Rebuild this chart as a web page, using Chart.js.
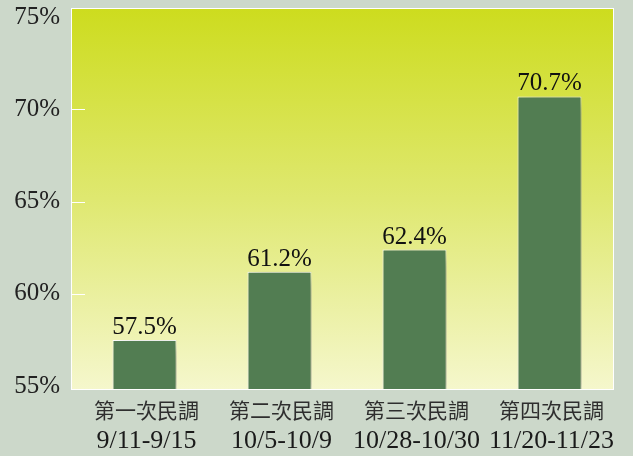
<!DOCTYPE html>
<html>
<head>
<meta charset="utf-8">
<script src="https://cdn.jsdelivr.net/npm/chart.js@4"></script>
<style>
  html, body { margin: 0; padding: 0; background: #ccd8ca; }
  #wrap { width: 633px; height: 456px; }
</style>
</head>
<body>
<div id="wrap"><canvas id="grafico"></canvas></div>
<script>
const rodadas = ['第一次民調', '第二次民調', '第三次民調', '第四次民調']
const periodos = ['9/11-9/15', '10/5-10/9', '10/28-10/30', '11/20-11/23']
const valores = [57.5, 61.2, 62.4, 70.7]
const ticksY = [55, 60, 65, 70, 75]

const fonte = '"Liberation Serif", "Noto Sans CJK TC", serif'
const eixoMin = 54.84
const eixoMax = 75.49

// fundo do gráfico em degradê + moldura branca (um pouco mais largo que a área das barras)
const fundoPlot = {
  id: 'fundoPlot',
  beforeDraw(chart) {
    const { ctx, chartArea: a } = chart
    const esq = a.left - 6
    const dir = a.right - 3
    const g = ctx.createLinearGradient(0, a.top, 0, a.bottom)
    g.addColorStop(0, '#cddc1e')
    g.addColorStop(0.5, '#dfe870')
    g.addColorStop(1, '#f5f7cc')
    ctx.save()
    ctx.fillStyle = g
    ctx.fillRect(esq, a.top, dir - esq, a.bottom - a.top)
    ctx.strokeStyle = '#ffffff'
    ctx.lineWidth = 1
    ctx.strokeRect(esq + 0.5, a.top + 0.5, dir - esq - 1, a.bottom - a.top)
    // tracinhos brancos dentro do eixo
    const y = chart.scales.y
    ticksY.slice(1, -1).forEach(v => {
      const py = Math.round(y.getPixelForValue(v)) + 0.5
      ctx.beginPath()
      ctx.moveTo(esq, py)
      ctx.lineTo(esq + 14, py)
      ctx.stroke()
    })
    ctx.restore()
  }
}

// sombra das barras
const sombra = {
  id: 'sombra',
  beforeDatasetsDraw(chart) {
    const ctx = chart.ctx
    ctx.save()
    ctx.shadowColor = 'rgba(40, 50, 20, 0.45)'
    ctx.shadowBlur = 14
    ctx.shadowOffsetX = 8
    ctx.shadowOffsetY = 6
  },
  afterDatasetsDraw(chart) {
    chart.ctx.restore()
  }
}

// rótulos de valor em cima das barras
const rotulos = {
  id: 'rotulos',
  afterDatasetsDraw(chart) {
    const ctx = chart.ctx
    ctx.save()
    ctx.font = '25px ' + fonte
    ctx.fillStyle = '#111111'
    ctx.textAlign = 'center'
    ctx.textBaseline = 'alphabetic'
    chart.getDatasetMeta(0).data.forEach((bar, i) => {
      ctx.fillText(valores[i].toFixed(1) + '%', bar.x, bar.y - 6)
    })
    ctx.restore()
  }
}

// rótulos do eixo x em duas linhas (nome da rodada + período)
const rotulosX = {
  id: 'rotulosX',
  afterDraw(chart) {
    const ctx = chart.ctx
    const x = chart.scales.x
    const topo = chart.chartArea.bottom
    ctx.save()
    ctx.textAlign = 'center'
    ctx.textBaseline = 'middle'
    rodadas.forEach((r, i) => {
      const px = x.getPixelForTick(i) + 2
      ctx.fillStyle = '#2e2e2e'
      ctx.font = '21px ' + fonte
      ctx.fillText(r, px, topo + 23)
      ctx.fillStyle = '#1a1a1a'
      ctx.font = '26px ' + fonte
      ctx.fillText(periodos[i], px, topo + 52)
    })
    ctx.restore()
  }
}

new Chart(document.getElementById('grafico').getContext('2d'), {
  type: 'bar',
  data: {
    labels: rodadas,
    datasets: [
      {
        data: valores,
        base: eixoMin,
        backgroundColor: '#527d52',
        borderColor: '#ffffff',
        borderWidth: 1,
        barPercentage: 0.474,
        categoryPercentage: 1,
        clip: false
      }
    ]
  },
  options: {
    responsive: true,
    maintainAspectRatio: false,
    animation: false,
    layout: { padding: { top: 8, right: 16, left: 0, bottom: 0 } },
    scales: {
      y: {
        min: eixoMin,
        max: eixoMax,
        afterBuildTicks: s => { s.ticks = ticksY.map(v => ({ value: v })) },
        afterFit: s => {
          s.width = 77
          s.paddingTop = 0
          s.paddingBottom = 0
        },
        grid: { display: false, drawTicks: false },
        border: { display: false },
        ticks: {
          color: '#222222',
          font: { family: fonte, size: 25 },
          padding: 17,
          callback: v => v + '%'
        }
      },
      x: {
        afterFit: s => {
          s.height = 67
          s.paddingLeft = 0
          s.paddingRight = 0
        },
        grid: { display: false, drawTicks: false },
        border: { display: false },
        ticks: { display: false }
      }
    },
    plugins: { legend: { display: false }, tooltip: { enabled: false } }
  },
  plugins: [fundoPlot, sombra, rotulos, rotulosX]
})
</script>
</body>
</html>
